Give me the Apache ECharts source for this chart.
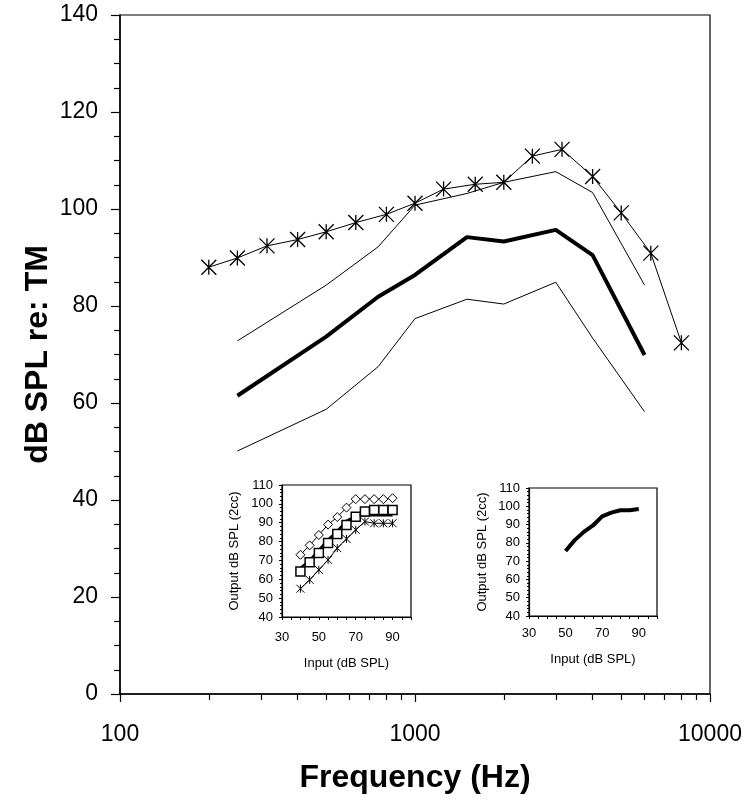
<!DOCTYPE html>
<html><head><meta charset="utf-8">
<script src="https://cdn.jsdelivr.net/npm/echarts@6/dist/echarts.min.js"></script>
<style>html,body{margin:0;padding:0;background:#fff}#c{width:752px;height:801px}</style>
</head><body><div id="c"></div>
<script>
// Main chart data
const freqThird = [200,250,315,400,500,630,800,1000,1250,1600,2000,2500,3150,4000,5000,6300,8000];
const starVals = [88.0,89.9,92.4,93.7,95.3,97.2,98.9,101.2,104.1,105.1,105.5,110.9,112.3,106.7,99.2,90.9,72.4];
const audioFreq = [250,500,750,1000,1500,2000,3000,4000,6000];
const upperVals = [72.8,84.3,92.2,100.8,103.2,105.5,107.7,103.4,84.3];
const meanVals = [61.5,73.7,81.9,86.4,94.2,93.3,95.7,90.5,69.9];
const lowerVals = [50.1,58.7,67.5,77.4,81.4,80.4,84.9,73.4,58.2];
const xMajorTicks = [100,1000,10000];
const xMinorTicks = [200,300,400,500,600,700,800,900,2000,3000,4000,5000,6000,7000,8000,9000];
// Inset 1 data
const inputs1 = [40,45,50,55,60,65,70,75,80,85,90];
const diamondVals = [73,78,83.5,89,93,98,102.5,102.5,102.5,102.5,103];
const squareVals = [64.1,69,74,79.2,84,88.8,93.2,95.9,96.8,96.8,96.8];
const boldVals = [66,70,75.5,81,85.5,91,93.5,94,94,94,94];
const starInVals = [55,59.7,65,70.3,76.5,81.4,86.2,90.6,89.7,89.7,89.7];
// Inset 2 data
const inputs2 = [50,55,60,65,70,75,80,85,90];
const curve2Vals = [75.5,81.5,86,89.5,94.5,96.5,97.8,97.8,98.5];

const pair = (xs, ys) => xs.map((x, i) => [x, ys[i]]);
const ast = 'path://M0,-10L0,10M-10,-10L10,10M-10,10L10,-10';
const F = 'Arial, "Liberation Sans", sans-serif';

const chart = echarts.init(document.getElementById('c'));

function insetAxes(gi, labMarginX, nameGapX, nameGapY) {
  return {
    x: {
      type: 'value', gridIndex: gi, min: 30, max: 100, interval: 20,
      name: 'Input (dB SPL)', nameLocation: 'middle', nameGap: nameGapX,
      nameTextStyle: {fontFamily: F, fontSize: 13, color: '#000'},
      axisLine: {show: true, onZero: false, lineStyle: {color: '#000', width: 1.2}},
      axisTick: {show: true, length: 3, lineStyle: {color: '#000'}},
      minorTick: {show: true, splitNumber: 4, length: 3, lineStyle: {color: '#000'}},
      axisLabel: {fontFamily: F, fontSize: 13, color: '#000', margin: labMarginX, showMaxLabel: false},
      splitLine: {show: false}
    },
    y: {
      type: 'value', gridIndex: gi, min: 40, max: 110, interval: 10,
      name: 'Output dB SPL (2cc)', nameLocation: 'middle', nameGap: nameGapY,
      nameTextStyle: {fontFamily: F, fontSize: 13, color: '#000'},
      axisLine: {show: true, onZero: false, lineStyle: {color: '#000', width: 1.2}},
      axisTick: {show: true, length: 3, lineStyle: {color: '#000'}},
      minorTick: {show: true, splitNumber: 5, length: 2, lineStyle: {color: '#000'}},
      axisLabel: {fontFamily: F, fontSize: 13, color: '#000', margin: 9},
      splitLine: {show: false}
    }
  };
}
const in1 = insetAxes(1, 14, 40, 41), in2 = insetAxes(2, 11, 37, 40);

chart.setOption({
  animation: false,
  backgroundColor: '#fff',
  grid: [
    {left: 120, top: 15, width: 590, height: 679, show: true, borderColor: '#000', borderWidth: 1.2, backgroundColor: 'transparent'},
    {left: 282, top: 485, width: 129, height: 132, show: true, borderColor: '#000', borderWidth: 1.2},
    {left: 529, top: 488, width: 128, height: 128, show: true, borderColor: '#000', borderWidth: 1.2}
  ],
  xAxis: [
    {
      type: 'log', logBase: 10, min: 100, max: 10000, gridIndex: 0,
      name: 'Frequency (Hz)', nameLocation: 'middle', nameGap: 68,
      nameTextStyle: {fontFamily: F, fontSize: 32, fontWeight: 'bold', color: '#000'},
      axisLine: {show: true, onZero: false, lineStyle: {color: '#000', width: 1.5}},
      axisTick: {show: true, length: 8, customValues: xMajorTicks, lineStyle: {color: '#000', width: 1.2}},
      axisLabel: {fontFamily: F, fontSize: 23, color: '#000', margin: 29, customValues: xMajorTicks,
                  formatter: v => String(Math.round(v))},
      splitLine: {show: false}
    },
    {
      type: 'log', logBase: 10, min: 100, max: 10000, gridIndex: 0,
      axisLine: {show: false},
      axisTick: {show: true, length: 6, customValues: xMinorTicks, lineStyle: {color: '#000', width: 1.2}},
      axisLabel: {show: false},
      splitLine: {show: false}, position: 'bottom'
    },
    in1.x, in2.x
  ],
  yAxis: [
    {
      type: 'value', min: 0, max: 140, interval: 20, gridIndex: 0,
      name: 'dB SPL re: TM', nameLocation: 'middle', nameGap: 66, nameMoveOverlap: false,
      nameTextStyle: {fontFamily: F, fontSize: 32, fontWeight: 'bold', color: '#000'},
      axisLine: {show: true, lineStyle: {color: '#000', width: 1.5}},
      axisTick: {show: true, length: 9, lineStyle: {color: '#000', width: 1.2}},
      minorTick: {show: true, splitNumber: 4, length: 6, lineStyle: {color: '#000', width: 1.2}},
      axisLabel: {fontFamily: F, fontSize: 23, color: '#000', margin: 22},
      splitLine: {show: false}
    },
    in1.y, in2.y
  ],
  series: [
    {type: 'line', xAxisIndex: 0, yAxisIndex: 0, data: pair(freqThird, starVals),
     symbol: ast, symbolSize: 15, lineStyle: {color: '#000', width: 1},
     itemStyle: {color: '#000', borderColor: '#000', borderWidth: 1.3}},
    {type: 'line', xAxisIndex: 0, yAxisIndex: 0, data: pair(audioFreq, upperVals),
     symbol: 'none', lineStyle: {color: '#000', width: 1}},
    {type: 'line', xAxisIndex: 0, yAxisIndex: 0, data: pair(audioFreq, meanVals),
     symbol: 'none', lineStyle: {color: '#000', width: 4}},
    {type: 'line', xAxisIndex: 0, yAxisIndex: 0, data: pair(audioFreq, lowerVals),
     symbol: 'none', lineStyle: {color: '#000', width: 1}},
    // inset 1
    {type: 'line', xAxisIndex: 2, yAxisIndex: 1, data: pair(inputs1, diamondVals),
     symbol: 'diamond', symbolSize: 9, lineStyle: {color: '#000', width: 1},
     itemStyle: {color: '#fff', borderColor: '#000', borderWidth: 1}},
    {type: 'line', xAxisIndex: 2, yAxisIndex: 1, data: pair(inputs1, boldVals),
     symbol: 'none', lineStyle: {color: '#000', width: 2.5}},
    {type: 'line', xAxisIndex: 2, yAxisIndex: 1, data: pair(inputs1, squareVals),
     symbol: 'rect', symbolSize: 9, lineStyle: {color: '#000', width: 1},
     itemStyle: {color: '#fff', borderColor: '#000', borderWidth: 1.5}},
    {type: 'line', xAxisIndex: 2, yAxisIndex: 1, data: pair(inputs1, starInVals),
     symbol: ast, symbolSize: 8, lineStyle: {color: '#000', width: 1},
     itemStyle: {color: '#000', borderColor: '#000', borderWidth: 1}},
    // inset 2
    {type: 'line', xAxisIndex: 3, yAxisIndex: 2, data: pair(inputs2, curve2Vals),
     symbol: 'none', lineStyle: {color: '#000', width: 4}}
  ]
});
</script></body></html>
